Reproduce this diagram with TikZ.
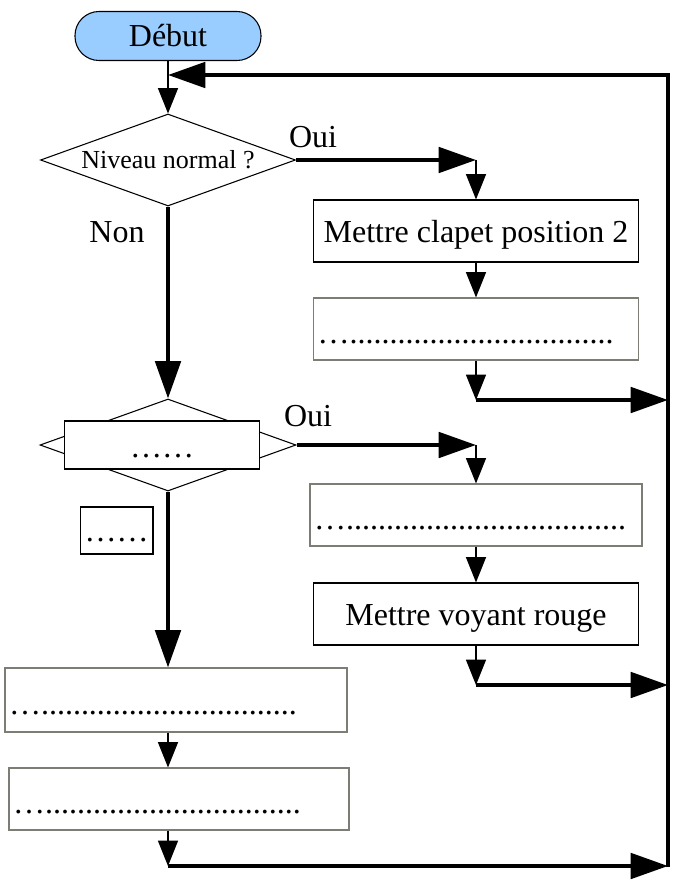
\documentclass[tikz,border=0pt]{standalone}
\usepackage{fontspec}
\setmainfont{Liberation Serif}
\usetikzlibrary{arrows.meta,shapes,positioning}
\definecolor{startblue}{RGB}{153,204,255}
\definecolor{boxgray}{RGB}{125,125,118}
\newcommand{\flowfont}{\fontsize{24pt}{28pt}\selectfont}
\newcommand{\testfont}{\fontsize{19.5pt}{23pt}\selectfont}
\tikzstyle{thinarrow} = [line width=1pt,-{Triangle[length=19pt,width=15pt]}]
\tikzstyle{thickarrow} = [line width=3pt,-{Triangle[length=28pt,width=19pt]}]
\tikzstyle{startstop} = [rectangle, rounded corners=18pt, minimum width=139.5pt, minimum height=36.75pt, text height=18pt, text depth=2pt, text centered, draw, line width=0.8pt, fill=startblue, font=\flowfont]
\tikzstyle{decision} = [diamond, aspect=2.77, inner sep=0pt, minimum width=191.25pt, minimum height=69pt, draw, line width=0.8pt, font=\testfont]
\tikzstyle{process} = [rectangle, minimum width=243.75pt, minimum height=46.5pt, text height=19.5pt, text depth=2pt, text centered, draw, line width=0.8pt, font=\flowfont]
\tikzstyle{dotbox} = [rectangle, minimum height=46.5pt, text width=237.75pt, align=left, inner sep=3pt, text height=21pt, text depth=0pt, draw=boxgray, line width=0.8pt, font=\flowfont]
\tikzstyle{smallbox} = [rectangle, draw, fill=white, line width=0.8pt, text depth=0pt, font=\flowfont]
\tikzstyle{lbl} = [inner sep=0pt, font=\flowfont]

\begin{document}
\begin{tikzpicture}[x=0.75pt, y=-0.75pt]
\useasboundingbox (0,0) rectangle (679,882);
% Start and tests
\node (debut) [startstop] at (168,36) {Début};
\node (niveau) [decision, below of=debut, node distance=93pt] {Niveau normal ?};
\node (test2) [decision, below of=niveau, node distance=213.75pt, minimum width=192pt] {};
\node (test2box) [smallbox, minimum width=146.25pt, minimum height=36pt, text height=18pt, xshift=-4.5pt] at (test2) {……};
\node (petit) [smallbox, below of=test2, node distance=64.1pt, xshift=-38.6pt, minimum width=53.25pt, minimum height=35.25pt, text height=16.5pt] {……};

% Right column
\node (clapet) [process, right of=niveau, node distance=231pt, yshift=-53.25pt] {Mettre clapet position 2};
\node (vide1) [dotbox, below of=clapet, node distance=73.5pt] {….................................};
\node (vide2) [dotbox, below of=vide1, node distance=139.5pt, text width=243pt] {…...................................};
\node (rouge) [process, below of=vide2, node distance=74.25pt] {Mettre voyant rouge};

% Left column
\node (vide3) [dotbox, below of=test2, node distance=191.25pt, xshift=6pt, text width=250.5pt, minimum height=48pt] {…................................};
\node (vide4) [dotbox, below of=vide3, node distance=74.25pt, xshift=2.25pt, text width=249pt] {…................................};

% Labels
\node (oui1) [lbl] at (313,137) {Oui};
\node (non) [lbl] at (117,232) {Non};
\node (oui2) [lbl] at (308,416) {Oui};

% Return line
\coordinate (haut) at (668,75);
\coordinate (bas) at (668,867);
\coordinate (sortie1) at (476,400);
\coordinate (sortie2) at (476,685);
\coordinate (sortie3) at (168,866);

% Arrows
\draw[thinarrow] (debut) -- (niveau);
\draw[thickarrow] (niveau.east) -- (niveau.east -| clapet);
\draw[thinarrow] (niveau.east -| clapet) -- (clapet);
\draw[thinarrow] (clapet) -- (vide1);
\draw[thinarrow] (vide1) -- (sortie1);
\draw[thickarrow] (sortie1) -- (sortie1 -| haut);
\draw[thickarrow] (niveau) -- (test2);
\draw[thickarrow] (test2.east) -- (test2.east -| vide2);
\draw[thinarrow] (test2.east -| vide2) -- (vide2);
\draw[thinarrow] (vide2) -- (rouge);
\draw[thinarrow] (rouge) -- (sortie2);
\draw[thickarrow] (sortie2) -- (sortie2 -| haut);
\draw[thickarrow] (test2) -- (test2 |- vide3.north);
\draw[thinarrow] (test2 |- vide3.south) -- (test2 |- vide4.north);
\draw[thinarrow] (test2 |- vide4.south) -- (sortie3);
\draw[thickarrow] (sortie3) -- (sortie3 -| haut);
\draw[thickarrow] (bas) -- (haut) -- (haut -| debut);
\end{tikzpicture}
\end{document}
